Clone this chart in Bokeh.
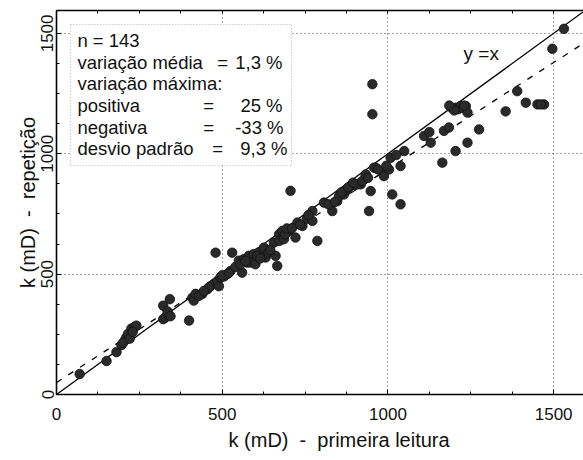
from bokeh.plotting import figure
from bokeh.models import FixedTicker, BoxAnnotation, Label, Range1d, ColumnDataSource, LinearAxis, Title
from bokeh.embed import file_html
from bokeh.resources import INLINE

# ---- data ----
k_primeira = [70, 151, 181, 196, 206, 211, 216, 226, 236, 241, 201, 221, 322, 329, 337, 342, 322, 335,
              400, 344, 410, 414, 420, 440, 430, 455, 465, 475, 485, 490, 495, 505, 515, 525, 480, 530,
              560, 550, 565, 575, 580, 585, 595, 600, 610, 626, 631, 640, 656, 661, 666, 672, 672, 686,
              681, 701, 706, 721, 727, 742, 755, 772, 772, 787, 807, 832, 847, 852, 867, 877, 887, 900,
              918, 933, 948, 943, 963, 953, 953, 908, 922, 933, 958, 983, 988, 1003, 1008, 1038, 1049,
              1013, 1038, 1109, 1129, 1169, 1184, 1164, 1204, 1240, 1275, 1192, 1204, 1212, 1219, 1227,
              1235, 1240, 1200, 1355, 1390, 1416, 1451, 1471, 1496, 1531, 1461, 460, 445, 500, 520, 540,
              555, 570, 605, 615, 645, 690, 695, 710, 735, 760, 820, 840, 860, 880, 895, 940, 970, 995,
              1025, 1230, 1125, 1185, 230]
k_repeticao = [85, 139, 176, 205, 224, 238, 252, 274, 280, 286, 215, 232, 313, 320, 330, 396, 369, 345,
               307, 325, 402, 390, 418, 418, 410, 437, 450, 460, 471, 450, 487, 490, 500, 513, 589, 589,
               506, 556, 562, 548, 576, 548, 583, 541, 590, 610, 569, 590, 631, 576, 534, 666, 638, 645,
               679, 679, 846, 652, 714, 700, 730, 721, 762, 638, 797, 762, 803, 824, 831, 850, 866, 870,
               873, 907, 845, 762, 942, 1289, 1164, 873, 886, 914, 942, 928, 907, 935, 983, 949, 1011,
               831, 790, 1074, 1046, 1095, 1109, 963, 1011, 1046, 1101, 1191, 1191, 1185, 1198, 1190,
               1198, 1171, 1180, 1176, 1260, 1212, 1205, 1205, 1436, 1519, 1205, 445, 430, 495, 505, 530,
               540, 555, 575, 565, 600, 665, 690, 690, 705, 745, 790, 800, 840, 860, 880, 900, 935, 950,
               995, 1200, 1090, 1200, 260]

x_ticks = [0, 500, 1000, 1500]
y_ticks = [0, 500, 1000, 1500]
minor = [i * 125 for i in range(13)]

fit_intercept = 50.0
fit_slope = 0.886
line_x = [0, 1590]
identity_y = [v for v in line_x]
fit_y = [fit_intercept + fit_slope * v for v in line_x]

stats_left = ["variação média", "variação máxima:", "positiva", "negativa", "desvio padrão"]
stats_vals = ["1,3 %", "", "25 %", "-33 %", "9,3 %"]

x_title = "k (mD)\u00a0\u00a0-\u00a0\u00a0primeira leitura"
y_title = "k (mD)\u00a0\u00a0-\u00a0\u00a0repetição"

FONT = "Liberation Sans"
INK = "#111111"

p = figure(width=583, height=460, output_backend="svg", toolbar_location=None,
           x_range=Range1d(0, 1590), y_range=Range1d(0, 1595),
           min_border_left=56, min_border_right=0, min_border_top=10, min_border_bottom=66,
           background_fill_color="white", border_fill_color="white")
p.outline_line_color = None

top_axis = LinearAxis(ticker=FixedTicker(ticks=[], minor_ticks=minor))
p.add_layout(top_axis, "above")

p.line(line_x, identity_y, line_color="black", line_width=1.3)
p.line(line_x, fit_y, line_color="black", line_width=1.3, line_dash="6 8")

src = ColumnDataSource(dict(x=k_primeira, y=k_repeticao))
p.scatter("x", "y", source=src, size=9.5, fill_color="#2a2a2a", line_color="#111111", line_width=0.8)

bottom_axis = p.below[0]
left_axis = p.left[0]
bottom_axis.ticker = FixedTicker(ticks=x_ticks, minor_ticks=minor)
left_axis.ticker = FixedTicker(ticks=y_ticks, minor_ticks=minor)

for ax in (bottom_axis, left_axis, top_axis):
    ax.axis_line_color = "black"
    ax.axis_line_width = 1.6
    ax.major_tick_in = 5
    ax.major_tick_out = 0
    ax.minor_tick_in = 3
    ax.minor_tick_out = 0
    ax.major_tick_line_color = "black"
    ax.minor_tick_line_color = "black"
    ax.major_label_text_font = FONT
    ax.major_label_text_font_size = "17px"
    ax.major_label_text_color = INK

left_axis.major_label_orientation = "vertical"
bottom_axis.major_label_standoff = 13
left_axis.major_label_standoff = 3

for g in (p.xgrid, p.ygrid):
    g.ticker = FixedTicker(ticks=[500, 1000, 1500])
    g.grid_line_color = "#444444"
    g.grid_line_dash = "1 3"
    g.grid_line_width = 1

box = BoxAnnotation(left=42, right=709, bottom=951, top=1537,
                    fill_color="white", fill_alpha=1.0,
                    line_color="black", line_dash="1 2", line_width=1)
p.add_layout(box)

def lab(x, y, t, align="left", size="18.5px"):
    p.add_layout(Label(x=x, y=y, text=t, text_align=align, text_baseline="middle",
                       text_font=FONT, text_font_size=size, text_color=INK))

lab(63, 1471, "n = 143")
rows_y = [1379, 1292, 1201, 1109, 1022]
eq_x = [501, None, 459, 459, 486]
val_x = [682, None, 682, 685, 697]
for t, v, y, ex, vx in zip(stats_left, stats_vals, rows_y, eq_x, val_x):
    lab(63, y, t)
    if ex is not None:
        lab(ex, y, "=", align="center")
        lab(vx, y, v, align="right")

lab(1228, 1417, "y =x", size="19px")

# axis titles
xt = Title(text=x_title, align="left", offset=172, standoff=8,
           text_font=FONT, text_font_size="20px", text_font_style="normal", text_color=INK)
p.add_layout(xt, "below")
yt = Title(text=y_title, align="center", standoff=0,
           text_font=FONT, text_font_size="20px", text_font_style="normal", text_color=INK)
p.add_layout(yt, "left")

open("out.html", "w").write(file_html(p, INLINE))
